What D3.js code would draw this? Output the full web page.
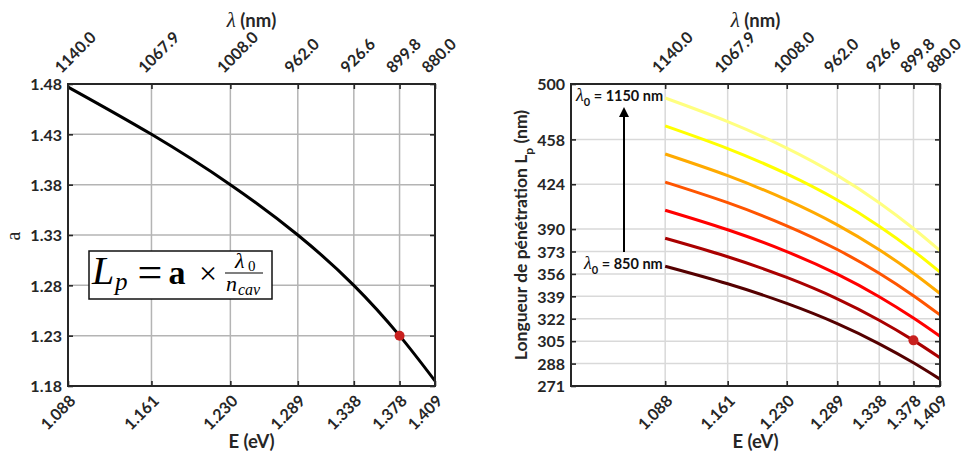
<!DOCTYPE html>
<html><head><meta charset="utf-8">
<script src="https://cdn.jsdelivr.net/npm/d3@7"></script>
<style>
body{margin:0;background:#fff;}
svg{display:block;}
</style></head>
<body>
<script>
// ---------- data ----------
const eTicks = [1.088, 1.161, 1.230, 1.289, 1.338, 1.378, 1.409];
const lambdaTickLabels = ["1140.0", "1067.9", "1008.0", "962.0", "926.6", "899.8", "880.0"];
const aTicks = [1.18, 1.23, 1.28, 1.33, 1.38, 1.43, 1.48];
const aValues = [1.477, 1.430, 1.380, 1.330, 1.280, 1.230, 1.185];
const lpTicks = [271, 288, 305, 322, 339, 356, 373, 390, 424, 458, 500];
const lambda0 = [850, 900, 950, 1000, 1050, 1100, 1150];
const lp850  = [361.8, 348.5, 333.6, 318.3, 303.0, 288.6, 276.2];
const lp900  = [383.0, 369.0, 353.3, 337.1, 320.9, 305.6, 292.4];
const lp950  = [404.3, 389.5, 372.9, 355.8, 338.7, 322.5, 308.7];
const lp1000 = [425.6, 410.0, 392.5, 374.5, 356.5, 339.5, 324.9];
const lp1050 = [446.9, 430.5, 412.1, 393.2, 374.3, 356.5, 341.1];
const lp1100 = [468.2, 451.0, 431.8, 412.0, 392.2, 373.5, 357.4];
const lp1150 = [489.4, 471.5, 451.4, 430.7, 410.0, 390.4, 373.6];
const lpSeries = [lp850, lp900, lp950, lp1000, lp1050, lp1100, lp1150];
const curveColors = ["#550000", "#aa0000", "#ff0000", "#ff5500", "#ffaa00", "#ffff00", "#ffff80"];
const markerLeft = {E: 1.378, v: 1.23};
const markerRight = {E: 1.378, v: 305.6};

// ---------- setup ----------
const W = 967, H = 457;
const svg = d3.select("body").append("svg").attr("width", W).attr("height", H);
const SANS = "Lato, 'Open Sans', sans-serif";
const SERIF = "'Liberation Serif', 'DejaVu Serif', serif";
const BOX = "#262626";

function drawPanel(cfg) {
  const {x, y, xTicks, yTicks, yFmt, gridColor} = cfg;
  const [x0, x1] = x.range();
  const [y0, y1] = y.range(); // y0 bottom, y1 top
  const g = svg.append("g");
  // grid
  g.append("g").selectAll("line").data(xTicks).join("line")
    .attr("x1", d => x(d)).attr("x2", d => x(d)).attr("y1", y1).attr("y2", y0)
    .attr("stroke", gridColor).attr("stroke-width", 1.5);
  g.append("g").selectAll("line").data(yTicks).join("line")
    .attr("x1", x0).attr("x2", x1).attr("y1", d => y(d)).attr("y2", d => y(d))
    .attr("stroke", gridColor).attr("stroke-width", 1.5);

  // axes
  const bottom = g.append("g").attr("transform", `translate(0,${y0})`)
    .call(d3.axisBottom(x).tickValues(xTicks).tickFormat(d3.format(".3f")).tickSize(-5).tickSizeOuter(0));
  const top = g.append("g").attr("transform", `translate(0,${y1})`)
    .call(d3.axisTop(x).tickValues(xTicks).tickFormat((d, i) => lambdaTickLabels[i]).tickSize(-5).tickSizeOuter(0));
  const left = g.append("g").attr("transform", `translate(${x0},0)`)
    .call(d3.axisLeft(y).tickValues(yTicks).tickFormat(yFmt).tickSize(-5).tickSizeOuter(0).tickPadding(6));
  const right = g.append("g").attr("transform", `translate(${x1},0)`)
    .call(d3.axisRight(y).tickValues(yTicks).tickFormat("").tickSize(-5).tickSizeOuter(0));
  [bottom, top, left, right].forEach(a => {
    a.select(".domain").remove();
    a.selectAll(".tick line").attr("stroke", BOX).attr("stroke-width", 1.6);
    a.selectAll("text").attr("font-family", SANS).attr("font-weight", "bold")
      .attr("font-size", 16).attr("fill", "#262626");
  });
  bottom.selectAll("text").attr("x", 0).attr("y", 0).attr("dy", 0)
    .attr("text-anchor", "end").attr("transform", "translate(8,16) rotate(-45)");
  top.selectAll("text").attr("x", 0).attr("y", 0).attr("dy", 0)
    .attr("text-anchor", "start").attr("transform", "translate(-7,-10) rotate(-45)");
  left.selectAll("text").attr("dy", "0.36em");

  // titles
  const cx = (x0 + x1) / 2;
  const tt = g.append("text").attr("x", cx).attr("y", 27).attr("text-anchor", "middle")
    .attr("font-family", SANS).attr("font-weight", "bold").attr("font-size", 18.5).attr("fill", "#262626");
  tt.append("tspan").attr("font-family", SERIF).attr("font-style", "italic").attr("font-weight", "normal")
    .attr("font-size", 21).text("λ");
  tt.append("tspan").text(" (nm)");
  g.append("text").attr("x", cx).attr("y", 448).attr("text-anchor", "middle")
    .attr("font-family", SANS).attr("font-weight", "bold").attr("font-size", 18.5).attr("fill", "#262626")
    .text("E (eV)");
  return g;
}

// ---------- left panel ----------
const xL = d3.scaleLinear().domain([1.088, 1.409]).range([68, 435]);
const yL = d3.scaleLinear().domain([1.18, 1.48]).range([386, 84]);
const gL = drawPanel({x: xL, y: yL, xTicks: eTicks, yTicks: aTicks, yFmt: d3.format(".2f"), gridColor: "#b4b4b4"});

const leftData = eTicks.map((e, i) => ({E: e, v: aValues[i]}));
gL.append("path").datum(leftData)
  .attr("d", d3.line().x(d => xL(d.E)).y(d => yL(d.v)).curve(d3.curveNatural))
  .attr("fill", "none").attr("stroke", "#000").attr("stroke-width", 3);
gL.append("circle").attr("cx", xL(markerLeft.E)).attr("cy", yL(markerLeft.v)).attr("r", 5)
  .attr("fill", "#c8201e");
gL.append("rect").attr("x", 68).attr("y", 84).attr("width", 367).attr("height", 302)
  .attr("fill", "none").attr("stroke", BOX).attr("stroke-width", 2);

// y label "a"
svg.append("text").attr("transform", "translate(20,236) rotate(-90)").attr("text-anchor", "middle")
  .attr("font-family", SERIF).attr("font-size", 20).attr("fill", "#262626").text("a");

// formula box
const fb = gL.append("g");
fb.append("rect").attr("x", 89).attr("y", 251).attr("width", 183).attr("height", 48)
  .attr("fill", "#fff").attr("stroke", "#111").attr("stroke-width", 1.5);
fb.append("text").attr("x", 92).attr("y", 284).attr("font-family", SERIF).attr("font-style", "italic")
  .attr("font-size", 40).text("L");
fb.append("text").attr("x", 115).attr("y", 290).attr("font-family", SERIF).attr("font-style", "italic")
  .attr("font-size", 25).text("p");
fb.append("text").attr("x", 150).attr("y", 287).attr("text-anchor", "middle").attr("font-family", SERIF)
  .attr("font-size", 44).text("=");
fb.append("text").attr("x", 177).attr("y", 284).attr("text-anchor", "middle").attr("font-family", SERIF)
  .attr("font-weight", "bold").attr("font-size", 34).text("a");
fb.append("text").attr("x", 208).attr("y", 284).attr("text-anchor", "middle").attr("font-family", SERIF)
  .attr("font-size", 32).text("×");
fb.append("line").attr("x1", 225).attr("x2", 263).attr("y1", 273).attr("y2", 273)
  .attr("stroke", "#000").attr("stroke-width", 1.2);
fb.append("text").attr("x", 235).attr("y", 268).attr("font-family", SERIF).attr("font-style", "italic")
  .attr("font-size", 22).text("λ");
fb.append("text").attr("x", 248).attr("y", 271).attr("font-family", SERIF)
  .attr("font-size", 15).text("0");
fb.append("text").attr("x", 226).attr("y", 291).attr("font-family", SERIF).attr("font-style", "italic")
  .attr("font-size", 22).text("n");
fb.append("text").attr("x", 238).attr("y", 295).attr("font-family", SERIF).attr("font-style", "italic")
  .attr("font-size", 16).text("cav");

// ---------- right panel ----------
const xR = d3.scaleLinear().domain([0.978, 1.409]).range([571, 940]);
const yR = d3.scaleLinear().domain([271, 500]).range([386, 84]);
const gR = drawPanel({x: xR, y: yR, xTicks: eTicks, yTicks: lpTicks, yFmt: d3.format("d"), gridColor: "#d9d9d9"});

const lineR = d3.line().x(d => xR(d.E)).y(d => yR(d.v)).curve(d3.curveNatural);
lpSeries.forEach((s, k) => {
  gR.append("path").datum(eTicks.map((e, i) => ({E: e, v: s[i]})))
    .attr("d", lineR).attr("fill", "none").attr("stroke", curveColors[k]).attr("stroke-width", 3);
});
gR.append("circle").attr("cx", xR(markerRight.E)).attr("cy", yR(markerRight.v)).attr("r", 5)
  .attr("fill", "#c8201e");
gR.append("rect").attr("x", 571).attr("y", 84).attr("width", 369).attr("height", 302)
  .attr("fill", "none").attr("stroke", BOX).attr("stroke-width", 2);

// annotations
function lamLabel(x, y, val) {
  const t = gR.append("text").attr("x", x).attr("y", y).attr("font-family", SANS)
    .attr("font-weight", "bold").attr("font-size", 14.5).attr("fill", "#111");
  t.append("tspan").attr("font-family", SERIF).attr("font-style", "italic").attr("font-weight", "normal")
    .attr("font-size", 18).text("λ");
  t.append("tspan").attr("font-size", 11).attr("dy", 5).text("0");
  t.append("tspan").attr("dy", -5).text(" = " + val + " nm");
}
lamLabel(576, 101, lambda0[lambda0.length - 1]);
lamLabel(584, 269, lambda0[0]);
svg.append("defs").append("marker").attr("id", "ah").attr("viewBox", "0 0 10 10")
  .attr("refX", 5).attr("refY", 5).attr("markerWidth", 5).attr("markerHeight", 5).attr("orient", "auto")
  .append("path").attr("d", "M0,0 L10,5 L0,10 Z").attr("fill", "#000");
gR.append("line").attr("x1", 624).attr("x2", 624).attr("y1", 252).attr("y2", 112)
  .attr("stroke", "#000").attr("stroke-width", 2).attr("marker-end", "url(#ah)");

// y label right
const yl = svg.append("text").attr("transform", "translate(527,235) rotate(-90)").attr("text-anchor", "middle")
  .attr("font-family", SANS).attr("font-weight", "bold").attr("font-size", 17.5).attr("fill", "#262626");
yl.append("tspan").text("Longueur de pénétration L");
yl.append("tspan").attr("font-size", 12).attr("dy", 6).text("p");
yl.append("tspan").attr("dy", -6).text(" (nm)");
</script>
</body></html>
